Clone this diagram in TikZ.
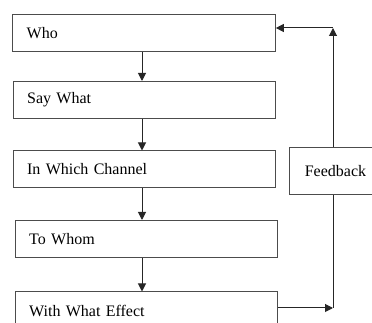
\documentclass[tikz,border=0pt]{standalone}
\usepackage{fontspec}
\setmainfont{Liberation Serif}
\usepackage{tikz}
\usetikzlibrary{shapes,arrows.meta,positioning,calc}

\begin{document}
\begin{tikzpicture}[
    x=0.75pt, y=-0.75pt,
    >={Triangle[length=6pt,width=6pt]},
    stage/.style={rectangle, draw=black!70, line width=0.75pt, minimum width=197pt, minimum height=27.75pt, text width=176pt, inner xsep=10.5pt, align=left, font=\fontsize{12}{14}\selectfont},
    loopbox/.style={rectangle, draw=black!70, line width=0.75pt, minimum width=69.75pt, minimum height=35.25pt, align=center, font=\fontsize{12}{14}\selectfont},
    flow/.style={->, line width=0.75pt, draw=black!85}
]
\useasboundingbox (0,0) rectangle (372,323);
\clip (0,0) rectangle (372,323);

% Stages
\node[stage] (who) at (144,33.5) {Who};
\node[stage] (saywhat) at (144.5,100) {Say What};
\node[stage] (channel) at (144.5,169.5) {In Which Channel};
\node[stage] (whom) at (146.5,239) {To Whom};
\node[stage] (effect) at (146.5,310.5) {With What Effect};

% Feedback box
\node[loopbox] (fb) at (335.5,171.5) {Feedback};

% Axis of the down arrows and corners of the loop
\coordinate (axis) at (142,0);
\coordinate (topc) at (333,28);
\coordinate (botc) at (333,308);

% Down arrows
\draw[flow] (who.south -| axis) -- (saywhat.north -| axis);
\draw[flow] (saywhat.south -| axis) -- (channel.north -| axis);
\draw[flow] (channel.south -| axis) -- (whom.north -| axis);
\draw[flow] (whom.south -| axis) -- (effect.north -| axis);

% Feedback loop
\draw[flow] (effect.east |- botc) -- (botc);
\draw[line width=0.75pt, draw=black!85] (botc) -- (fb.south -| botc);
\draw[flow] (fb.north -| topc) -- (topc);
\draw[flow] (topc) -- (who.east |- topc);

\end{tikzpicture}
\end{document}
